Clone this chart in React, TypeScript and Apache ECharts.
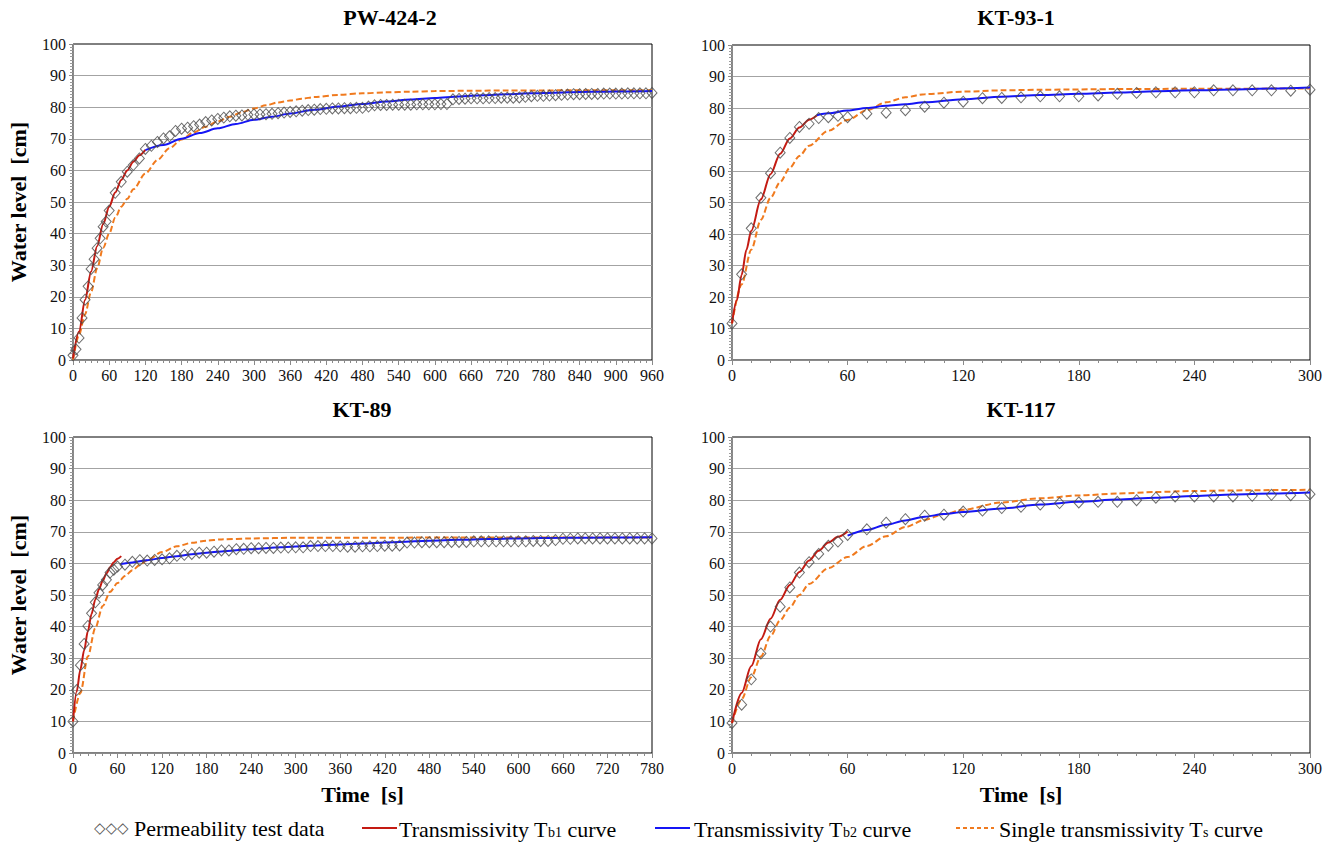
import { useEffect, useRef } from 'react';
import * as echarts from 'echarts';

const SERIF = "'Liberation Serif', 'Times New Roman', serif";

const panelTitles = ['PW-424-2', 'KT-93-1', 'KT-89', 'KT-117'];
const xMaxima = [960, 300, 780, 300];
const yTitle = 'Water level\u00a0 [cm]';
const xTitle = 'Time\u00a0 [s]';
const legendNames = ['Permeability test data', 'Transmissivity T', 'Transmissivity T', 'Single transmissivity T'];

// ---------- PW-424-2 ----------
const pwDataT = [0, 5, 10, 15, 20, 25, 30, 35, 40, 45, 50, 55, 60,
  70, 80, 90, 100, 110, 120, 130, 140, 150, 160, 170, 180, 190, 200,
  210, 220, 230, 240, 250, 260, 270, 280, 290, 300,
  310, 320, 330, 340, 350, 360, 370, 380, 390, 400,
  410, 420, 430, 440, 450, 460, 470, 480, 490, 500,
  510, 520, 530, 540, 550, 560, 570, 580, 590, 600,
  610, 620, 630, 640, 650, 660, 670, 680, 690, 700,
  710, 720, 730, 740, 750, 760, 770, 780, 790, 800,
  810, 820, 830, 840, 850, 860, 870, 880, 890, 900,
  910, 920, 930, 940, 950, 960];
const pwDataV = [1.5, 3.4, 7.0, 13.3, 19.1, 23.3, 28.8, 31.9, 35.4, 38.5, 42.2, 43.8, 47.3,
  52.9, 56.4, 59.6, 61.7, 63.8, 66.8, 67.8, 69.0, 70.1, 70.8, 72.5, 73.2, 73.5, 74.0,
  74.5, 75.3, 75.8, 76.3, 76.7, 77.1, 77.3, 77.4, 77.6, 77.7,
  77.7, 77.8, 77.9, 78.1, 78.3, 78.5, 78.7, 78.9, 79.1, 79.2,
  79.4, 79.5, 79.6, 79.6, 79.7, 79.7, 79.8, 79.8, 80.2, 80.6,
  80.7, 80.7, 80.8, 80.8, 80.8, 80.8, 80.9, 80.9, 80.9, 80.9,
  81.0, 81.0, 82.5, 82.6, 82.7, 82.8, 82.8, 82.8, 82.9, 82.9,
  83.0, 83.0, 83.0, 83.1, 83.3, 83.5, 83.6, 83.6, 83.7, 83.8,
  83.9, 84.0, 84.1, 84.1, 84.2, 84.2, 84.2, 84.3, 84.3, 84.3,
  84.3, 84.4, 84.4, 84.4, 84.4, 84.5];
const pwTb1T = [0, 10, 20, 30, 40, 50, 60, 70, 80, 90, 100, 110, 120];
const pwTb1V = [0.5, 9, 19, 28, 36, 43, 48.5, 53, 57, 60, 62.7, 64.8, 66.5];
const pwTb2T = [120, 150, 180, 210, 240, 270, 300, 330, 360, 400, 440, 480, 520, 560, 600, 640, 680, 720, 760, 800, 840, 880, 920, 960];
const pwTb2V = [66.4, 68, 70, 71.8, 73.3, 74.7, 76, 77, 78, 79.2, 80.2, 81, 81.8, 82.4, 82.9, 83.4, 83.8, 84.1, 84.4, 84.6, 84.8, 84.9, 85, 85.1];
const pwTsT = [0, 10, 20, 30, 40, 50, 60, 70, 80, 90, 100, 120, 140, 160, 180, 200, 220, 240, 260, 280, 300, 320, 340, 360, 380, 400, 440, 480, 520, 560, 600, 660, 720, 780, 840, 900, 960];
const pwTsV = [0, 8, 14.5, 21.5, 29, 35.5, 40, 45, 48.5, 51, 54, 59, 63.3, 67, 69.8, 72, 73.8, 75.5, 77, 78.4, 79.6, 80.6, 81.5, 82.1, 82.7, 83.2, 83.9, 84.4, 84.7, 84.9, 85.1, 85.2, 85.3, 85.3, 85.4, 85.4, 85.4];

// ---------- KT-93-1 ----------
const k93DataT = [0, 5, 10, 15, 20, 25, 30, 35, 40, 45, 50, 55, 60,
  70, 80, 90, 100, 110, 120, 130, 140, 150, 160, 170, 180, 190, 200,
  210, 220, 230, 240, 250, 260, 270, 280, 290, 300];
const k93DataV = [11.6, 27.2, 41.8, 51.5, 59.3, 65.8, 70.5, 74.0, 75.0, 76.8, 77.1, 77.5, 77.1,
  78.2, 78.5, 79.3, 80.4, 81.7, 82.0, 83.1, 83.2, 83.4, 83.7, 83.7, 83.7, 84.0, 84.5,
  84.8, 85.0, 85.0, 85.0, 85.6, 85.6, 85.6, 85.6, 85.5, 85.8];
const k93Tb1T = [0, 2.5, 5, 7.5, 10, 15, 20, 25, 30, 35, 40, 44];
const k93Tb1V = [11.6, 19, 27, 35, 41, 51, 59, 65.5, 70.3, 73.8, 76.3, 77.6];
const k93Tb2T = [44, 50, 60, 70, 80, 90, 100, 120, 140, 160, 180, 200, 220, 240, 260, 280, 300];
const k93Tb2V = [77.7, 78.3, 79.2, 80, 80.7, 81.2, 81.8, 82.8, 83.6, 84.1, 84.5, 84.9, 85.3, 85.6, 85.9, 86.2, 86.5];
const k93TsT = [0, 5, 10, 15, 20, 25, 30, 35, 40, 50, 60, 70, 80, 90, 100, 120, 140, 160, 200, 240, 300];
const k93TsV = [11.6, 24, 35, 44.5, 51.5, 56.5, 61, 64.8, 68, 72.8, 76.2, 79.3, 81.8, 83.4, 84.4, 85.2, 85.6, 85.8, 86, 86.1, 86.2];

// ---------- KT-89 ----------
const k89DataT = [0, 5, 10, 15, 20, 25, 30, 35, 40, 45, 50, 55, 60,
  70, 80, 90, 100, 110, 120, 130, 140, 150, 160,
  170, 180, 190, 200, 210, 220, 230, 240, 250, 260,
  270, 280, 290, 300, 310, 320, 330, 340, 350, 360,
  370, 380, 390, 400, 410, 420, 430, 440, 450, 460,
  470, 480, 490, 500, 510, 520, 530, 540, 550, 560,
  570, 580, 590, 600, 610, 620, 630, 640, 650, 660,
  670, 680, 690, 700, 710, 720, 730, 740, 750, 760,
  770, 780];
const k89DataV = [10, 19.9, 27.8, 34.5, 40.2, 44.2, 47.7, 50.7, 53.2, 54.8, 57.1, 58.0, 59.0,
  59.6, 60.5, 61.0, 60.9, 61.1, 61.3, 61.6, 62.4, 62.7, 63.0,
  63.4, 63.4, 63.7, 64.1, 64.1, 64.5, 64.6, 64.8, 64.8, 64.9,
  64.9, 65.0, 65.0, 65.1, 65.1, 65.5, 65.5, 65.5, 65.5, 65.4,
  65.3, 65.3, 65.4, 65.4, 65.5, 65.6, 65.6, 65.7, 66.6, 66.6,
  66.7, 66.7, 66.7, 66.7, 66.8, 66.8, 66.8, 67.0, 67.0, 67.0,
  67.0, 67.0, 67.0, 67.0, 67.0, 67.1, 67.1, 67.1, 67.4, 67.8,
  67.8, 67.9, 67.9, 67.9, 67.9, 67.9, 67.9, 67.9, 67.9, 67.9,
  67.9, 67.9];
const k89Tb1T = [0, 5, 10, 15, 20, 25, 30, 35, 40, 45, 50, 55, 60, 65];
const k89Tb1V = [10, 19.5, 26.5, 32.5, 38.5, 44, 48.5, 51.8, 54.5, 56.8, 58.8, 60.4, 61.5, 62.3];
const k89Tb2T = [64, 80, 100, 120, 140, 160, 180, 200, 240, 280, 320, 360, 400, 440, 480, 520, 560, 600, 660, 720, 780];
const k89Tb2V = [59.8, 60.3, 61, 61.7, 62.3, 62.9, 63.4, 63.8, 64.5, 65.1, 65.6, 66, 66.4, 66.8, 67.2, 67.5, 67.7, 67.9, 68.1, 68.2, 68.3];
const k89TsT = [0, 10, 20, 30, 40, 50, 60, 70, 80, 90, 100, 120, 140, 160, 180, 200, 240, 300, 400, 500, 600, 780];
const k89TsV = [10, 19, 30.5, 39.5, 46.5, 51, 53.8, 56, 57.8, 59.5, 61, 63.6, 65.4, 66.5, 67.2, 67.6, 67.9, 68.1, 68.1, 68.2, 68.2, 68.2];

// ---------- KT-117 ----------
const k117DataT = [0, 5, 10, 15, 20, 25, 30, 35, 40, 45, 50, 55, 60,
  70, 80, 90, 100, 110, 120, 130, 140, 150, 160, 170, 180, 190, 200,
  210, 220, 230, 240, 250, 260, 270, 280, 290, 300];
const k117DataV = [9.5, 15.3, 23.3, 31.5, 40.0, 46.3, 52.4, 57.1, 60.4, 63.0, 65.6, 66.9, 69.0,
  70.8, 72.9, 74.0, 75.1, 75.4, 76.4, 76.7, 77.5, 77.9, 78.6, 79.1, 79.3, 79.5, 79.5,
  80.0, 80.8, 81.2, 81.2, 81.2, 81.2, 81.4, 81.7, 81.6, 81.9];
const k117Tb1T = [0, 5, 10, 15, 20, 25, 30, 35, 40, 45, 50, 55, 60];
const k117Tb1V = [9.5, 19, 27.5, 36, 42.5, 48.5, 53.2, 57.3, 60.9, 64, 66.6, 68.4, 70.1];
const k117Tb2T = [60, 70, 80, 90, 100, 110, 120, 140, 160, 180, 200, 220, 240, 260, 280, 300];
const k117Tb2V = [68.8, 70.6, 72.2, 73.6, 74.8, 75.6, 76.3, 77.4, 78.6, 79.5, 80.2, 80.8, 81.3, 81.8, 82.1, 82.4];
const k117TsT = [0, 5, 10, 15, 20, 25, 30, 35, 40, 50, 60, 70, 80, 90, 100, 110, 120, 140, 160, 180, 200, 220, 240, 260, 280, 300];
const k117TsV = [9.5, 17, 24, 30.5, 37, 42, 46, 50, 53.5, 58.5, 62, 65.5, 68.6, 71.5, 73.8, 75.6, 77, 79.3, 80.6, 81.5, 82.1, 82.6, 82.9, 83.1, 83.2, 83.3];

const zip = (t: number[], v: number[]) => t.map((x, i) => [x, v[i]]);

const panelSets = [
  { d: [pwDataT, pwDataV], b1: [pwTb1T, pwTb1V], b2: [pwTb2T, pwTb2V], s: [pwTsT, pwTsV] },
  { d: [k93DataT, k93DataV], b1: [k93Tb1T, k93Tb1V], b2: [k93Tb2T, k93Tb2V], s: [k93TsT, k93TsV] },
  { d: [k89DataT, k89DataV], b1: [k89Tb1T, k89Tb1V], b2: [k89Tb2T, k89Tb2V], s: [k89TsT, k89TsV] },
  { d: [k117DataT, k117DataV], b1: [k117Tb1T, k117Tb1V], b2: [k117Tb2T, k117Tb2V], s: [k117TsT, k117TsV] },
];

const RED = '#C41A12';
const BLUE = '#1515F5';
const ORANGE = '#F07A1E';

function buildOption() {
  const grids = [
    { left: 73, top: 44, width: 579, height: 316 },
    { left: 732, top: 45, width: 578, height: 315 },
    { left: 73, top: 437, width: 579, height: 316 },
    { left: 732, top: 437, width: 578, height: 316 },
  ].map((g) => ({ ...g, show: true, borderColor: '#000', borderWidth: 1, backgroundColor: 'transparent' }));

  const titleCenters = [[390, 6], [1016, 6], [362, 398], [1021, 398]];
  const title = panelTitles.map((t, i) => ({
    text: t,
    left: titleCenters[i][0],
    top: titleCenters[i][1],
    textAlign: 'center',
    padding: 0,
    textStyle: { fontFamily: SERIF, fontWeight: 'bold', fontSize: 22, color: '#000' },
  }));

  const labelStyle = { fontFamily: 'Liberation Serif', fontSize: 16, color: '#111', fontWeight: 'normal' };

  const xAxis = xMaxima.map((mx, i) => ({
    type: 'value',
    gridIndex: i,
    min: 0,
    max: mx,
    interval: 60,
    name: i >= 2 ? xTitle : '',
    nameLocation: 'middle',
    nameGap: 30,
    nameTextStyle: { fontFamily: 'Liberation Serif', fontWeight: 'bold', fontSize: 22, color: '#000' },
    axisLine: { show: true, onZero: false, lineStyle: { color: '#8a8a8a', width: 1 } },
    axisTick: { show: true, length: 5, lineStyle: { color: '#8a8a8a' } },
    minorTick: { show: true, splitNumber: 6, length: 3, lineStyle: { color: '#8a8a8a' } },
    splitLine: { show: false },
    axisLabel: { ...labelStyle, margin: 7, showMinLabel: true, showMaxLabel: true, hideOverlap: false },
  }));

  const yAxis = [0, 1, 2, 3].map((i) => ({
    type: 'value',
    gridIndex: i,
    min: 0,
    max: 100,
    interval: 10,
    name: i % 2 === 0 ? yTitle : '',
    nameLocation: 'middle',
    nameGap: 44,
    nameRotate: 90,
    nameTextStyle: { fontFamily: 'Liberation Serif', fontWeight: 'bold', fontSize: 22, color: '#000' },
    axisLine: { show: true, lineStyle: { color: '#8a8a8a', width: 1 } },
    axisTick: { show: true, length: 4, lineStyle: { color: '#8a8a8a' } },
    minorTick: { show: true, splitNumber: 10, length: 3, lineStyle: { color: '#9a9a9a' } },
    splitLine: { show: true, showMinLine: false, showMaxLine: false, lineStyle: { color: '#a3a3a3', width: 1 } },
    axisLabel: { ...labelStyle, margin: 7 },
  }));

  const series: any[] = [];
  panelSets.forEach((p, i) => {
    series.push({
      type: 'line', name: 'Ts', xAxisIndex: i, yAxisIndex: i,
      data: zip(p.s[0], p.s[1]), showSymbol: false, smooth: 0.3, smoothMonotone: 'x',
      lineStyle: { color: ORANGE, width: 2, type: [6, 3] }, z: 3,
    });
    series.push({
      type: 'line', name: 'Tb1', xAxisIndex: i, yAxisIndex: i,
      data: zip(p.b1[0], p.b1[1]), showSymbol: false, smooth: 0.3, smoothMonotone: 'x',
      lineStyle: { color: RED, width: 2 }, z: 4,
    });
    series.push({
      type: 'line', name: 'Tb2', xAxisIndex: i, yAxisIndex: i,
      data: zip(p.b2[0], p.b2[1]), showSymbol: false, smooth: 0.3, smoothMonotone: 'x',
      lineStyle: { color: BLUE, width: 2 }, z: 4,
    });
    series.push({
      type: 'scatter', name: 'data', xAxisIndex: i, yAxisIndex: i,
      data: zip(p.d[0], p.d[1]), symbol: 'diamond', symbolSize: [10, 11],
      itemStyle: { color: 'rgba(255,255,255,0)', borderColor: '#4a4a4a', borderWidth: 1 }, z: 5,
    });
  });

  const LY = 828;
  const legendFont = `22px ${SERIF}`;
  const textStyle = (text: string) => ({
    text, font: legendFont, fill: '#000', verticalAlign: 'middle', textVerticalAlign: 'middle', align: 'left', textAlign: 'left',
  });
  const richStyle = (head: string, sub: string) => ({
    text: `{a|${head}}{s|${sub}}{a| curve}`,
    fill: '#000', verticalAlign: 'middle', textVerticalAlign: 'middle', align: 'left', textAlign: 'left',
    rich: {
      a: { fontFamily: SERIF, fontSize: 22, lineHeight: 24, verticalAlign: 'bottom', fill: '#000' },
      s: { fontFamily: SERIF, fontSize: 14, lineHeight: 14, verticalAlign: 'bottom', fill: '#000', padding: [0, 0, 1, 0] },
    },
  });

  const graphic = [
    { type: 'text', x: 94, y: LY, style: { text: '◇◇◇', font: "15px 'DejaVu Sans'", fill: '#555', verticalAlign: 'middle', textVerticalAlign: 'middle' } },
    { type: 'text', x: 134, y: LY, style: textStyle(legendNames[0]) },
    { type: 'line', shape: { x1: 362, y1: LY, x2: 397, y2: LY }, style: { stroke: RED, lineWidth: 2 } },
    { type: 'text', x: 399, y: LY, style: richStyle(legendNames[1], 'b1') },
    { type: 'line', shape: { x1: 655, y1: LY, x2: 690, y2: LY }, style: { stroke: BLUE, lineWidth: 2 } },
    { type: 'text', x: 694, y: LY, style: richStyle(legendNames[2], 'b2') },
    { type: 'line', shape: { x1: 956, y1: LY, x2: 994, y2: LY }, style: { stroke: ORANGE, lineWidth: 2, lineDash: [4, 3] } },
    { type: 'text', x: 999, y: LY, style: richStyle(legendNames[3], 's') },
  ];

  return {
    animation: false,
    backgroundColor: '#fff',
    textStyle: { fontFamily: SERIF },
    title,
    grid: grids,
    xAxis,
    yAxis,
    series,
    graphic,
  };
}

export default function App() {
  const ref = useRef<HTMLDivElement>(null);
  useEffect(() => {
    document.body.style.margin = '0';
    const chart = echarts.init(ref.current as HTMLDivElement, null, { renderer: 'svg' });
    chart.setOption(buildOption() as any);
    return () => chart.dispose();
  }, []);
  return <div ref={ref} style={{ width: 1338, height: 843, background: '#fff' }} />;
}
